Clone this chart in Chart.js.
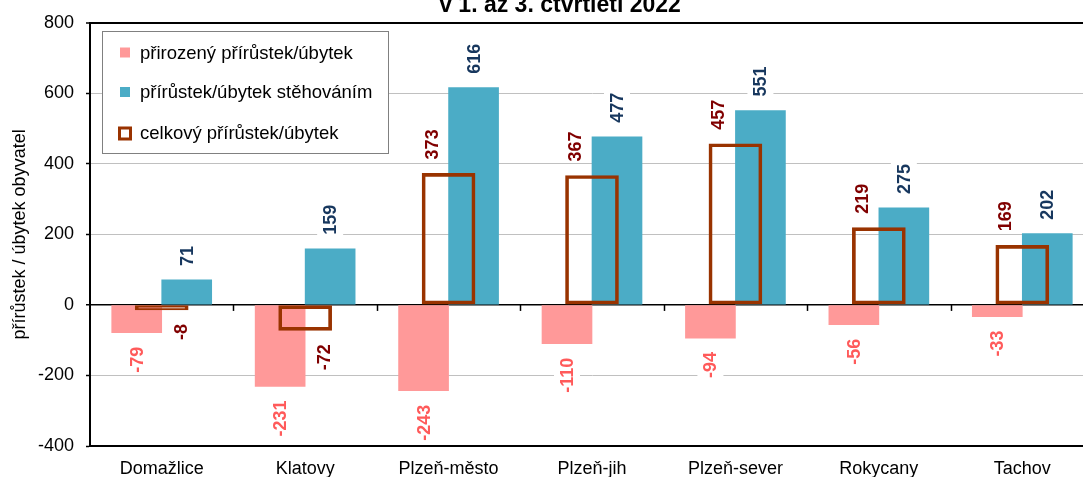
<!DOCTYPE html>
<html>
<head>
<meta charset="utf-8">
<script src="https://cdn.jsdelivr.net/npm/chart.js@4"></script>
<style>
  html, body { margin: 0; padding: 0; overflow: hidden; background: #fff; }
  #wrap { width: 1083px; height: 477px; overflow: hidden; }
</style>
</head>
<body>
<div id="wrap"><canvas id="canvas" width="1100" height="477"></canvas></div>
<script>
const okresy = ["Domažlice", "Klatovy", "Plzeň-město", "Plzeň-jih", "Plzeň-sever", "Rokycany", "Tachov"];
const prirozeny = [-79, -231, -243, -110, -94, -56, -33];
const stehovanim = [71, 159, 616, 477, 551, 275, 202];
const celkovy = [-8, -72, 373, 367, 457, 219, 169];
const yMin = -400, yMax = 800, yStep = 200;

const FONT = "'Liberation Sans', Arial, sans-serif";

// popisky hodnot, otocene o 90 stupnu
const hodnoty = {
  id: "hodnoty",
  afterDatasetsDraw(chart) {
    const ctx = chart.ctx;
    ctx.save();
    ctx.font = "bold 18px " + FONT;
    chart.data.datasets.forEach((ds, i) => {
      const meta = chart.getDatasetMeta(i);
      meta.data.forEach((bar, j) => {
        const v = ds.data[j];
        const txt = String(v);
        const w = ctx.measureText(txt).width;
        let x = bar.x;
        if (ds.posun) x += v < 0 ? ds.posun[1] : ds.posun[0];
        const gap = 14;
        const cy = v < 0 ? bar.y + gap + w / 2 : bar.y - gap - w / 2;
        ctx.save();
        ctx.translate(x, cy);
        ctx.rotate(-Math.PI / 2);
        ctx.fillStyle = "#fff";
        ctx.fillRect(-w / 2 - 1, -13, w + 2, 26);
        ctx.fillStyle = ds.barvaPopisku;
        ctx.textAlign = "center";
        ctx.textBaseline = "middle";
        ctx.fillText(txt, 0, 1);
        ctx.restore();
      });
    });
    ctx.restore();
  }
};

// znacky na nulove ose + legenda + nadpis
const doplnky = {
  id: "doplnky",
  beforeDatasetsDraw(chart) {
    const ctx = chart.ctx, x = chart.scales.x, y = chart.scales.y;
    const y0 = y.getPixelForValue(0);
    const krok = (x.right - x.left) / okresy.length;
    ctx.save();
    ctx.strokeStyle = "#000";
    ctx.lineWidth = 1.5;
    for (let i = 1; i < okresy.length; i++) {
      const px = Math.round(x.left + i * krok) + 0.5;
      ctx.beginPath();
      ctx.moveTo(px, y0);
      ctx.lineTo(px, y0 + 6);
      ctx.stroke();
    }
    ctx.restore();
  },
  afterDraw(chart) {
    const ctx = chart.ctx;
    ctx.save();
    // nadpis (horni cast je oriznuta)
    ctx.font = "bold 23px " + FONT;
    ctx.fillStyle = "#000";
    ctx.textAlign = "center";
    ctx.textBaseline = "alphabetic";
    ctx.fillText("v 1. až 3. čtvrtletí 2022", 560, 12);

    // legenda
    ctx.fillStyle = "#fff";
    ctx.fillRect(102.5, 31.5, 286, 122);
    ctx.strokeStyle = "#808080";
    ctx.lineWidth = 1;
    ctx.strokeRect(102.5, 31.5, 286, 122);
    ctx.font = "18.5px " + FONT;
    ctx.textAlign = "left";
    ctx.textBaseline = "middle";
    const ds = chart.data.datasets;
    const rows = [[ds[1], 52.5], [ds[2], 92], [ds[0], 133]];
    rows.forEach(([d, cy]) => {
      if (d.borderWidth) {
        ctx.strokeStyle = d.borderColor;
        ctx.lineWidth = 3;
        ctx.strokeRect(119.5, cy - 5, 11, 11);
      } else {
        ctx.fillStyle = d.backgroundColor;
        ctx.fillRect(120, cy - 5, 10, 10);
      }
      ctx.fillStyle = "#000";
      ctx.fillText(d.label, 140, cy + 1);
    });
    ctx.restore();
  }
};

const data = {
  labels: okresy,
  datasets: [
    {
      label: "celkový přírůstek/úbytek",
      data: celkovy,
      grouped: false,
      backgroundColor: "rgba(0,0,0,0)",
      borderColor: "#993300",
      borderWidth: 3,
      borderSkipped: false,
      barThickness: 53,
      minBarLength: 5,
      order: 0,
      barvaPopisku: "#800000",
      posun: [-17, 19],
    },
    {
      label: "přirozený přírůstek/úbytek",
      data: prirozeny,
      backgroundColor: "#ff9999",
      barThickness: 50,
      order: 1,
      barvaPopisku: "#ff5a5a",
    },
    {
      label: "přírůstek/úbytek stěhováním",
      data: stehovanim,
      backgroundColor: "#4bacc6",
      barThickness: 50,
      order: 1,
      barvaPopisku: "#17375e",
    },
  ],
};

const config = {
  type: "bar",
  data: data,
  plugins: [hodnoty, doplnky],
  options: {
    responsive: false,
    animation: false,
    layout: { padding: { top: 20, right: 6, bottom: 0, left: 0 } },
    plugins: {
      legend: { display: false },
      tooltip: { enabled: false },
      title: { display: false },
    },
    scales: {
      x: {
        type: "category",
        offset: true,
        grid: { display: true, drawOnChartArea: false, drawTicks: false },
        border: { display: true, color: "#000", width: 2 },
        ticks: { color: "#000", font: { family: FONT, size: 18 }, padding: 12, maxRotation: 0, autoSkip: false },
        afterFit: (s) => { s.height = 31; },
      },
      y: {
        min: yMin,
        max: yMax,
        ticks: { stepSize: yStep, color: "#000", font: { family: FONT, size: 18 }, padding: 12 },
        grid: {
          color: (c) => ([0, yMax, yMin].includes(c.tick.value) ? "#000" : "#c0c0c0"),
          lineWidth: (c) => (c.tick.value === yMax ? 2 : c.tick.value === 0 ? 1.5 : 1),
          tickColor: "#000",
          tickLength: 4,
          tickWidth: 1.5,
        },
        border: { color: "#000", width: 2 },
        title: {
          display: true,
          text: "přírůstek / úbytek obyvatel",
          color: "#000",
          font: { family: FONT, size: 18 },
          padding: { top: 9, bottom: 0 },
        },
        afterFit: (s) => { s.width = 90; },
      },
    },
  },
};

const canvas = document.getElementById("canvas");
const chart = new Chart(canvas, config);
</script>
</body>
</html>
